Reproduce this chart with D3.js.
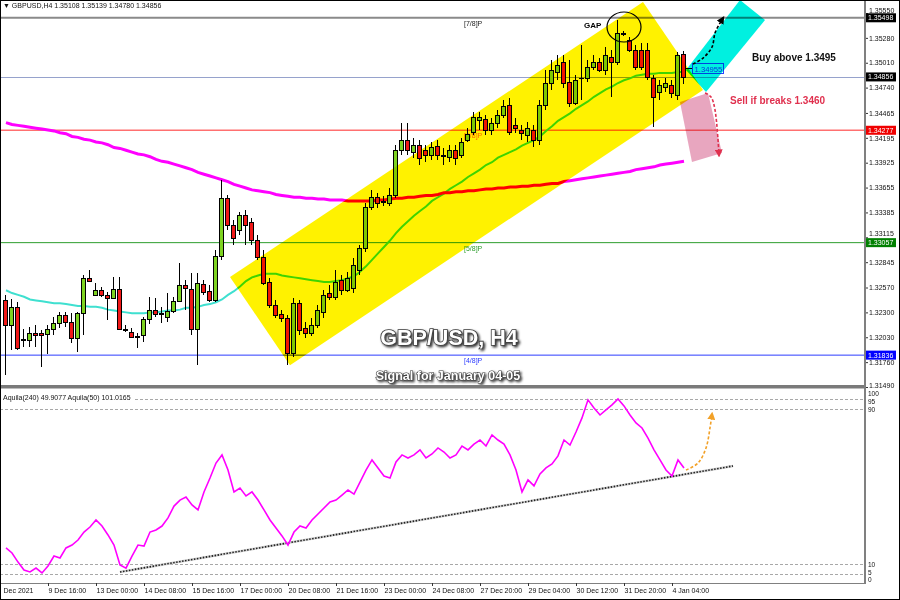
<!DOCTYPE html>
<html><head><meta charset="utf-8">
<script src="https://cdn.jsdelivr.net/npm/d3@7/dist/d3.min.js"></script>
<style>
html,body{margin:0;padding:0;background:#fff;}
svg{display:block;font-family:"Liberation Sans",Arial,sans-serif;}
</style></head><body>
<svg id="c" width="900" height="600"></svg>
<script>
// ---------- DATA ----------
const open = [
1.32433,1.32162,1.32357,1.32010,1.31999,1.32075,1.32075,1.32064,1.32118,1.32183,
1.32270,1.32194,1.32020,1.32292,1.32672,1.32487,1.32542,1.32487,1.32455,1.32553,
1.32118,1.32086,1.32042,1.32053,1.32227,1.32324,1.32292,1.32248,1.32314,1.32422,
1.32596,1.32553,1.32118,1.32607,1.32531,1.32433,1.32911,1.33541,1.33248,1.33193,
1.33356,1.33280,1.33085,1.32900,1.32628,1.32379,1.32281,1.32238,1.31858,1.32400,
1.32129,1.32075,1.32162,1.32303,1.32509,1.32466,1.32650,1.32542,1.32563,1.32759,
1.32998,1.33443,1.33552,1.33508,1.33486,1.33573,1.34062,1.34171,1.34040,1.34116,
1.34062,1.34008,1.34105,1.34008,1.33986,1.34062,1.34008,1.34171,1.34257,1.34388,
1.34399,1.34279,1.34355,1.34442,1.34551,1.34334,1.34279,1.34225,1.34279,1.34171,
1.34551,1.34790,1.34909,1.35018,1.34800,1.34572,1.34844,1.34844,1.34963,1.35018,
1.34931,1.35072,1.35018,1.35333,1.35257,1.35148,1.35148,1.35148,1.34844,1.34692,
1.34746,1.34768,1.34659,1.35108];
const high = [
1.32487,1.32444,1.32411,1.32118,1.32140,1.32162,1.32107,1.32162,1.32248,1.32303,
1.32303,1.32292,1.32303,1.32705,1.32759,1.32618,1.32574,1.32520,1.32683,1.32683,
1.32162,1.32129,1.32075,1.32248,1.32466,1.32455,1.32357,1.32509,1.32466,1.32835,
1.32650,1.32726,1.32726,1.32650,1.32596,1.32976,1.33736,1.33573,1.33302,1.33389,
1.33410,1.33324,1.33139,1.32976,1.32672,1.32433,1.32324,1.32270,1.32455,1.32433,
1.32194,1.32238,1.32379,1.32542,1.32596,1.32759,1.32705,1.32737,1.32889,1.33030,
1.33486,1.33628,1.33595,1.33562,1.33649,1.34116,1.34355,1.34355,1.34192,1.34171,
1.34116,1.34149,1.34171,1.34084,1.34116,1.34116,1.34192,1.34301,1.34475,1.34475,
1.34442,1.34410,1.34496,1.34605,1.34627,1.34410,1.34334,1.34366,1.34334,1.34605,
1.34931,1.35039,1.35094,1.35094,1.35039,1.34877,1.35202,1.35039,1.35094,1.35061,
1.35181,1.35148,1.35474,1.35354,1.35289,1.35202,1.35224,1.35224,1.34877,1.34822,
1.34844,1.34822,1.35126,1.35139];
const low = [
1.31619,1.31890,1.31890,1.31923,1.31923,1.31923,1.31705,1.31847,1.32053,1.32129,
1.32140,1.31966,1.31869,1.32053,1.32639,1.32487,1.32466,1.32216,1.32455,1.32118,
1.32086,1.32020,1.31912,1.31977,1.32172,1.32248,1.32183,1.32194,1.32292,1.32411,
1.32324,1.32053,1.31727,1.32487,1.32411,1.32411,1.32867,1.33193,1.33030,1.33139,
1.33030,1.33030,1.32867,1.32596,1.32346,1.32238,1.32194,1.31727,1.31814,1.32053,
1.32020,1.32042,1.32129,1.32238,1.32433,1.32433,1.32487,1.32520,1.32509,1.32705,
1.32954,1.33410,1.33432,1.33454,1.33454,1.33541,1.34008,1.34008,1.33975,1.33899,
1.33932,1.33953,1.33953,1.33899,1.33932,1.33899,1.33975,1.34149,1.34225,1.34279,
1.34225,1.34225,1.34301,1.34410,1.34225,1.34247,1.34171,1.34149,1.34095,1.34116,
1.34496,1.34714,1.34822,1.34735,1.34529,1.34551,1.34605,1.34800,1.34931,1.34909,
1.34877,1.34638,1.34985,1.35300,1.35126,1.34931,1.34931,1.34822,1.34312,1.34605,
1.34692,1.34627,1.34605,1.34780];
const close = [
1.32162,1.32357,1.31912,1.31999,1.32075,1.32053,1.32053,1.32118,1.32183,1.32270,
1.32194,1.32020,1.32292,1.32672,1.32639,1.32542,1.32487,1.32455,1.32553,1.32118,
1.32107,1.32031,1.32031,1.32227,1.32324,1.32281,1.32281,1.32314,1.32422,1.32596,
1.32563,1.32118,1.32618,1.32520,1.32433,1.32911,1.33541,1.33248,1.33106,1.33356,
1.33248,1.33085,1.32900,1.32618,1.32379,1.32270,1.32238,1.31858,1.32400,1.32107,
1.32075,1.32162,1.32324,1.32487,1.32466,1.32628,1.32542,1.32672,1.32813,1.32998,
1.33443,1.33552,1.33486,1.33497,1.33573,1.34062,1.34171,1.34062,1.34116,1.33975,
1.34008,1.34095,1.34008,1.33997,1.34062,1.33975,1.34149,1.34236,1.34420,1.34420,
1.34279,1.34355,1.34442,1.34540,1.34257,1.34301,1.34247,1.34301,1.34171,1.34551,
1.34790,1.34931,1.34985,1.34790,1.34572,1.34822,1.34840,1.34963,1.35018,1.34931,
1.35094,1.35018,1.35333,1.35322,1.35148,1.34963,1.34963,1.34855,1.34638,1.34768,
1.34790,1.34681,1.35094,1.34856];
const ma50 = [
1.3254,1.3251,1.3249,1.3247,1.3244,1.3243,1.3242,1.3241,1.3240,1.3240,
1.3239,1.3238,1.3237,1.3237,1.3236,1.3236,1.3235,1.3233,1.3232,1.3231,
1.3230,1.3229,1.3229,1.3229,1.3230,1.3230,1.3231,1.3232,1.3232,1.3233,
1.3235,1.3235,1.3236,1.3238,1.3239,1.3241,1.3244,1.3249,1.3253,1.3258,
1.3264,1.3268,1.3270,1.3272,1.3272,1.3272,1.3270,1.3269,1.3268,1.3267,
1.3266,1.3265,1.3264,1.3263,1.3263,1.3264,1.3265,1.3267,1.3269,1.3274,
1.3280,1.3287,1.3294,1.3301,1.3308,1.3316,1.3323,1.3329,1.3335,1.3340,
1.3345,1.3351,1.3355,1.3359,1.3364,1.3368,1.3372,1.3377,1.3381,1.3385,
1.3390,1.3393,1.3398,1.3401,1.3404,1.3407,1.3411,1.3414,1.3417,1.3421,
1.3427,1.3432,1.3438,1.3442,1.3446,1.3451,1.3455,1.3459,1.3464,1.3468,
1.3472,1.3475,1.3479,1.3482,1.3484,1.3487,1.3488,1.3489,1.3489,1.3490,
1.3490,1.3490,1.3491,1.3491];
const ma200 = [
1.3436,1.3434,1.3433,1.3432,1.3431,1.3430,1.3429,1.3428,1.3427,1.3425,
1.3424,1.3421,1.3420,1.3418,1.3417,1.3415,1.3414,1.3412,1.3409,1.3408,
1.3406,1.3404,1.3402,1.3401,1.3399,1.3396,1.3394,1.3393,1.3391,1.3389,
1.3387,1.3385,1.3382,1.3380,1.3378,1.3376,1.3374,1.3372,1.3369,1.3367,
1.3365,1.3363,1.3362,1.3361,1.3360,1.3358,1.3357,1.3356,1.3355,1.3355,
1.3354,1.3354,1.3353,1.3353,1.3352,1.3352,1.3352,1.3351,1.3351,1.3351,
1.3351,1.3351,1.3352,1.3352,1.3353,1.3354,1.3354,1.3355,1.3355,1.3356,
1.3357,1.3357,1.3358,1.3360,1.3360,1.3361,1.3361,1.3362,1.3362,1.3363,
1.3364,1.3364,1.3365,1.3365,1.3366,1.3366,1.3367,1.3367,1.3368,1.3368,
1.3369,1.3370,1.3370,1.3372,1.3373,1.3374,1.3375,1.3376,1.3377,1.3378,
1.3379,1.3380,1.3381,1.3382,1.3383,1.3385,1.3386,1.3387,1.3388,1.3390,
1.3391,1.3392,1.3393,1.3394];
const aquila50 = [
18.3,15.7,11.0,6.9,5.9,7.9,5.4,9.0,14.1,13.1,
18.3,19.8,22.4,26.5,29.1,32.7,29.6,25.0,19.8,9.5,
7.9,14.1,19.8,19.3,26.5,27.6,29.6,33.8,39.9,43.0,
44.6,40.5,37.9,47.2,54.4,62.1,66.3,58.5,47.2,49.2,
45.1,47.2,43.0,37.9,32.7,28.6,24.5,19.8,26.5,29.6,
28.6,32.7,35.8,38.9,42.0,43.0,45.6,48.2,46.1,52.3,
58.5,63.7,59.6,55.4,54.4,62.7,66.3,64.7,66.3,68.9,
64.7,66.8,69.9,67.8,64.7,66.3,70.9,68.9,71.9,74.0,
70.9,76.6,74.0,71.9,66.3,58.5,47.2,53.4,50.3,56.5,
59.6,61.6,65.8,74.0,71.4,78.1,85.4,94.7,90.5,86.9,
89.5,92.1,95.2,91.6,86.9,82.8,80.2,75.0,68.9,63.7,
58.5,55.4,63.7,59.6];

const priceTicks = [1.35550,1.35280,1.35010,1.34740,1.34465,1.34195,1.33925,1.33655,1.33385,1.33115,1.32845,1.32570,1.32300,1.32030,1.31760,1.31490];
const levelPrices = [1.35498,1.34277,1.33057,1.31836];
const levelNames = ["[7/8]P","[6/8]P","[5/8]P","[4/8]P"];
const bidPrice = 1.34856;
const markPrices = [1.35498,1.34856,1.34277,1.33057,1.31836];
const timeBars = [-1,7,15,23,31,39,47,55,63,71,79,87,95,103,111];
const timeLabels = ["Dec 2021","9 Dec 16:00","13 Dec 00:00","14 Dec 08:00","15 Dec 16:00","17 Dec 00:00","20 Dec 08:00","21 Dec 16:00","23 Dec 00:00","24 Dec 08:00","27 Dec 20:00","29 Dec 04:00","30 Dec 12:00","31 Dec 20:00","4 Jan 04:00"];
const indLevels = [95,90,10,5];
const indTickLabels = [100,95,90,10,5,0];
const buyPrice = 1.34955;
// annotation anchors (bar index, price / indicator value)
const channelBars = [37.33,47.33,116.17,106.17];
const channelPrices = [1.32683,1.31727,1.34714,1.35669];
const buyZoneBars = [113.33,116.67,126.5,122.33];
const buyZonePrices = [1.34931,1.34692,1.35474,1.35691];
const sellZoneBars = [112.33,117,119.33,114.33];
const sellZonePrices = [1.34583,1.34681,1.34029,1.33932];
const buyArrowBars = [114.5,116.17,117.67,118.17,119,119.5];
const buyArrowPrices = [1.34996,1.35061,1.35181,1.35333,1.35441,1.35496];
const sellArrowBars = [116.5,117.5,118.17,118.83];
const sellArrowPrices = [1.34681,1.34638,1.34497,1.34008];
const trendBars = [19,121.17];
const trendValues = [5.9,60.6];
const indArrowBars = [113.33,115.33,116.67,117.33,117.67];
const indArrowValues = [58.5,62.1,69.9,80.2,87.4];
const gapBar = 103, gapPrice = 1.35398;

// ---------- SCALES ----------
const x = d3.scaleLinear().domain([0,113]).range([6,684]);
const y = d3.scaleLinear().domain([1.3149,1.3555]).range([387,13]);
const yi = d3.scaleLinear().domain([0,100]).range([583.4,389.6]);

const svg = d3.select("#c");
svg.append("rect").attr("width",900).attr("height",600).attr("fill","#fff");
const defs = svg.append("defs");
const flt = defs.append("filter").attr("id","sh").attr("x","-10%").attr("y","-40%").attr("width","130%").attr("height","190%");
flt.append("feDropShadow").attr("dx",1.6).attr("dy",1.6).attr("stdDeviation",1).attr("flood-color","#000").attr("flood-opacity",0.8);
function marker(id,color,sz){
  defs.append("marker").attr("id",id).attr("viewBox","0 0 10 10").attr("refX",7).attr("refY",5)
   .attr("markerWidth",sz).attr("markerHeight",sz).attr("markerUnits","userSpaceOnUse").attr("orient","auto")
   .append("path").attr("d","M0,0L10,5L0,10z").attr("fill",color);
}
marker("ahB","#000",8); marker("ahR","#e0304e",8); marker("ahO","#f2a128",8);

const F = "'Liberation Sans',Arial,sans-serif";

// ---------- MAIN PANEL ----------
const levelColors = ["#8a8a8a","#ff7070","#2e9e2e","#2b3bff"];
const levelWidths = [2,1.4,1,1];
const labelColors = ["#222","#ff6a5a","#2e9e2e","#2b3bff"];
svg.append("g").selectAll("line").data(levelPrices).join("line")
  .attr("x1",0).attr("x2",865).attr("y1",d=>y(d)).attr("y2",d=>y(d))
  .attr("stroke",(d,i)=>levelColors[i]).attr("stroke-width",(d,i)=>levelWidths[i]);
svg.append("line").attr("x1",0).attr("x2",865).attr("y1",Math.round(y(bidPrice))+0.5).attr("y2",Math.round(y(bidPrice))+0.5)
  .attr("stroke","#96a2cc").attr("stroke-width",1);
svg.append("g").selectAll("text").data(levelPrices).join("text")
  .attr("x",464).attr("y",d=>y(d)+8).attr("font-size",7).attr("font-family",F)
  .attr("fill",(d,i)=>labelColors[i]).text((d,i)=>levelNames[i]);

const idx = d3.range(open.length);
// moving averages
svg.append("path").datum(idx).attr("fill","none").attr("stroke","#3fe0d0").attr("stroke-width",2)
  .attr("d",d3.line().x(i=>x(i)).y(i=>y(ma50[i])));
svg.append("path").datum(idx).attr("fill","none").attr("stroke","#ff00ff").attr("stroke-width",3)
  .attr("d",d3.line().x(i=>x(i)).y(i=>y(ma200[i])));

// candles
const gC = svg.append("g");
gC.selectAll("line").data(idx).join("line")
  .attr("x1",i=>x(i)-0.5).attr("x2",i=>x(i)-0.5)
  .attr("y1",i=>Math.round(y(high[i]))).attr("y2",i=>Math.round(y(low[i])))
  .attr("stroke","#000").attr("stroke-width",1);
gC.selectAll("rect").data(idx).join("rect")
  .attr("x",i=>x(i)-2.5).attr("width",4)
  .attr("y",i=>Math.round(Math.min(y(open[i]),y(close[i])))+0.5)
  .attr("height",i=>Math.max(0.01,Math.round(Math.abs(y(open[i])-y(close[i])))))
  .attr("fill",i=>close[i]>=open[i]?"#7ed321":"#f01818")
  .attr("stroke","#000").attr("stroke-width",1);

// price label at buy level
const by = Math.round(y(buyPrice))+0.5;
svg.append("line").attr("x1",x(113)+1).attr("x2",x(113)+8).attr("y1",by).attr("y2",by).attr("stroke","#000");
svg.append("rect").attr("x",x(113)+8.5).attr("y",by-5).attr("width",31).attr("height",10)
  .attr("fill","none").attr("stroke","#2a45ff").attr("stroke-width",1);
svg.append("text").attr("x",x(113)+10.5).attr("y",by+3).attr("font-size",7.7).attr("font-family",F)
  .attr("fill","#1f3cff").text(buyPrice.toFixed(5));

// translucent zones (multiply)
const poly = (bars,vals,sy)=> "M"+bars.map((b,i)=>x(b)+","+sy(vals[i])).join("L")+"Z";
svg.append("path").attr("d",poly(channelBars,channelPrices,y)).attr("fill","#fff200").style("mix-blend-mode","multiply");
svg.append("path").attr("d",poly(buyZoneBars,buyZonePrices,y)).attr("fill","#00f0e0").style("mix-blend-mode","multiply");
svg.append("path").attr("d",poly(sellZoneBars,sellZonePrices,y)).attr("fill","#e8a6bf").style("mix-blend-mode","multiply");

// arrows
const curve = d3.line().curve(d3.curveCatmullRom.alpha(0.5));
svg.append("path").attr("d",curve(buyArrowBars.map((b,i)=>[x(b),y(buyArrowPrices[i])])))
  .attr("fill","none").attr("stroke","#000").attr("stroke-width",1.6).attr("stroke-dasharray","3,2").attr("marker-end","url(#ahB)");
svg.append("path").attr("d",curve(sellArrowBars.map((b,i)=>[x(b),y(sellArrowPrices[i])])))
  .attr("fill","none").attr("stroke","#e0304e").attr("stroke-width",1.6).attr("stroke-dasharray","3,2").attr("marker-end","url(#ahR)");

// GAP circle
svg.append("ellipse").attr("cx",x(gapBar)).attr("cy",y(gapPrice)).attr("rx",17).attr("ry",15)
  .attr("fill","none").attr("stroke","#000").attr("stroke-width",1.2);
svg.append("text").attr("x",584).attr("y",28).attr("font-size",8).attr("font-weight","bold").attr("font-family",F).text("GAP");

svg.append("text").attr("x",752).attr("y",61).attr("font-size",10).attr("font-weight","bold").attr("font-family",F).attr("fill","#111").text("Buy above 1.3495");
svg.append("text").attr("x",730).attr("y",104).attr("font-size",10).attr("font-weight","bold").attr("font-family",F).attr("fill","#e0304e").text("Sell if breaks 1.3460");

// titles
svg.append("text").attr("x",449).attr("y",345).attr("text-anchor","middle").attr("font-size",21.5).attr("font-weight","bold")
  .attr("font-family",F).attr("fill","#fff").attr("stroke","#3a3a3a").attr("stroke-width",1.6).attr("paint-order","stroke")
  .attr("filter","url(#sh)").text("GBP/USD, H4");
svg.append("text").attr("x",448).attr("y",380).attr("text-anchor","middle").attr("font-size",12.5).attr("font-weight","bold")
  .attr("font-family",F).attr("fill","#fff").attr("stroke","#3a3a3a").attr("stroke-width",1.2).attr("paint-order","stroke")
  .attr("filter","url(#sh)").text("Signal for January 04-05");

// header
svg.append("text").attr("x",3).attr("y",8).attr("font-size",7).attr("font-family",F).attr("fill","#111")
  .text("\u25BC GBPUSD,H4  1.35108 1.35139 1.34780 1.34856");

// right price axis
const tickShift = d=> d===1.35550?"-0.1em": d===1.33115?"-0.3em": d===1.31490?"0.05em":"0.32em";
const ax = svg.append("g").attr("transform","translate(865,0)")
  .call(d3.axisRight(y).tickValues(priceTicks).tickSize(3).tickPadding(1).tickFormat(d3.format(".5f")));
ax.select(".domain").remove();
ax.selectAll("text").attr("font-size",7).attr("font-family",F).attr("fill","#111").attr("dy",tickShift);
ax.selectAll("line").attr("stroke","#333");
const markColors = ["#000","#000","#f00000","#008000","#0000ff"];
const gm = svg.append("g");
gm.selectAll("rect").data(markPrices).join("rect")
  .attr("x",866).attr("y",d=>y(d)-4.5).attr("width",30).attr("height",9).attr("fill",(d,i)=>markColors[i]);
gm.selectAll("text").data(markPrices).join("text")
  .attr("x",868).attr("y",d=>y(d)+2.5).attr("font-size",7).attr("font-family",F).attr("fill","#fff")
  .text(d=>d.toFixed(5));

// ---------- INDICATOR PANEL ----------
svg.append("g").selectAll("line").data(indLevels).join("line")
  .attr("x1",0).attr("x2",864).attr("y1",d=>Math.round(yi(d))+0.5).attr("y2",d=>Math.round(yi(d))+0.5)
  .attr("stroke","#a8a8a8").attr("stroke-width",1).attr("stroke-dasharray","3,2");
svg.append("line").attr("x1",x(trendBars[0])).attr("y1",yi(trendValues[0])).attr("x2",x(trendBars[1])).attr("y2",yi(trendValues[1]))
  .attr("stroke","#cfcfcf").attr("stroke-width",2.4);
svg.append("line").attr("x1",x(trendBars[0])).attr("y1",yi(trendValues[0])).attr("x2",x(trendBars[1])).attr("y2",yi(trendValues[1]))
  .attr("stroke","#222").attr("stroke-width",1.6).attr("stroke-dasharray","1.5,1.5");
svg.append("path").datum(idx).attr("fill","none").attr("stroke","#ff00ff").attr("stroke-width",1.6)
  .attr("d",d3.line().x(i=>x(i)).y(i=>yi(aquila50[i])));
svg.append("path").attr("d",curve(indArrowBars.map((b,i)=>[x(b),yi(indArrowValues[i])])))
  .attr("fill","none").attr("stroke","#f2a128").attr("stroke-width",1.6).attr("stroke-dasharray","3,2").attr("marker-end","url(#ahO)");
svg.append("rect").attr("x",1).attr("y",391).attr("width",132).attr("height",10).attr("fill","#fff");
svg.append("text").attr("x",3).attr("y",399.5).attr("font-size",7).attr("font-family",F).attr("fill","#111")
  .text("Aquila(240) 49.9077  Aquila(50) 101.0165");
const indLabelY = [394,401.5,409.5,564.5,572.5,580];
svg.append("g").selectAll("text").data(indTickLabels).join("text")
  .attr("x",868).attr("y",(d,i)=>indLabelY[i]+2.2)
  .attr("font-size",6.5).attr("font-family",F).attr("fill","#111").text(d=>d);

// frames
svg.append("rect").attr("x",0).attr("y",385).attr("width",866).attr("height",3.5).attr("fill","#7a7a7a");
svg.append("line").attr("x1",865).attr("x2",865).attr("y1",0).attr("y2",584).attr("stroke","#808080").attr("stroke-width",2);
svg.append("line").attr("x1",0).attr("x2",866).attr("y1",583.5).attr("y2",583.5).attr("stroke","#808080").attr("stroke-width",1);

// bottom time axis
const bx = svg.append("g").attr("transform","translate(0,583)")
  .call(d3.axisBottom(x).tickValues(timeBars).tickSize(3).tickPadding(2).tickFormat((d,i)=>timeLabels[i]));
bx.select(".domain").remove();
bx.selectAll("line").attr("stroke","#333").attr("opacity",(d,i)=>i===0?0:1);
bx.selectAll("text").attr("text-anchor","start").attr("x",(d,i)=>i===0?3:0)
  .attr("font-size",7).attr("font-family",F).attr("fill","#111");

svg.append("rect").attr("x",0.5).attr("y",0.5).attr("width",899).attr("height",599).attr("fill","none").attr("stroke","#000");
</script>
</body></html>
